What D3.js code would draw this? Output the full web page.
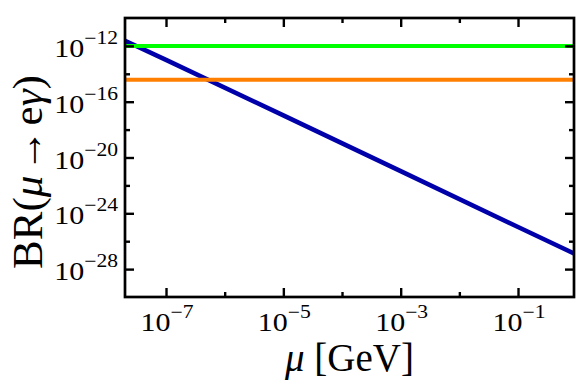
<!DOCTYPE html>
<html>
<head>
<meta charset="utf-8">
<script src="https://cdn.jsdelivr.net/npm/d3@7"></script>
<style>
  body { margin: 0; background: #fff; }
  text, tspan { font-family: "Liberation Serif", "Times New Roman", serif; fill: #000; }
</style>
</head>
<body>
<div class="importPlot"></div>
<script>
// data
var muValues = [2e-8, 1e-7, 1e-5, 1e-3, 1e-1, 0.9];          // GeV
var brValues = [2.3e-12, 1.0e-13, 1.05e-17, 1.05e-21, 1.05e-25, 1.3e-27];
var limitValues = [1e-12, 3.8e-15];                           // horizontal bounds
var limitColors = ["#00ff00", "#ff8000"];
var xLabelExps = [-7, -5, -3, -1];
var xMinorExps = [-6, -4, -2];
var yLabelExps = [-12, -16, -20, -24, -28];
var yMinorExps = [-14, -18, -22, -26];

var width = 581,
    height = 389,
    margin = { top: 18, right: 7, bottom: 92, left: 125 };

var x = d3.scaleLog()
    .domain([2e-8, 0.9])
    .range([margin.left, width - margin.right]);

var y = d3.scaleLog()
    .domain([1e-30, 1e-10])
    .range([height - margin.bottom, margin.top]);

var svg = d3.select(".importPlot")
    .append("svg")
    .attr("width", width)
    .attr("height", height);

svg.append("clipPath")
    .attr("id", "plotClip")
    .append("rect")
    .attr("x", margin.left)
    .attr("y", margin.top)
    .attr("width", width - margin.right - margin.left)
    .attr("height", height - margin.bottom - margin.top);

var plot = svg.append("g").attr("clip-path", "url(#plotClip)");

// blue curve
var line = d3.line()
    .x(function (d) { return x(d[0]); })
    .y(function (d) { return y(d[1]); });

plot.append("path")
    .datum(d3.zip(muValues, brValues))
    .attr("d", line)
    .attr("fill", "none")
    .attr("stroke", "#0000aa")
    .attr("stroke-width", 4.5);

// bounds
plot.selectAll(".limit")
    .data(limitValues)
    .enter().append("path")
    .attr("class", "limit")
    .attr("d", function (v) {
        return line([[x.domain()[0], v], [x.domain()[1], v]]);
    })
    .attr("fill", "none")
    .attr("stroke", function (v, i) { return limitColors[i]; })
    .attr("stroke-width", 4);

function pow10(list) {
    return list.map(function (e) { return Math.pow(10, e); });
}

// ticks, pointing inward on all four sides
function ticks(axis, scale, exps, size, transform) {
    var g = svg.append("g")
        .attr("transform", transform)
        .call(axis(scale).tickValues(pow10(exps)).tickSize(-size).tickFormat(""));
    g.select(".domain").remove();
    g.selectAll("line").attr("stroke", "#000").attr("stroke-width", 2.4);
}

var bottomY = height - margin.bottom,
    rightX = width - margin.right;

ticks(d3.axisBottom, x, xLabelExps, 9, "translate(0," + bottomY + ")");
ticks(d3.axisBottom, x, xMinorExps, 5, "translate(0," + bottomY + ")");
ticks(d3.axisTop, x, xLabelExps, 9, "translate(0," + margin.top + ")");
ticks(d3.axisTop, x, xMinorExps, 5, "translate(0," + margin.top + ")");
ticks(d3.axisLeft, y, yLabelExps, 9, "translate(" + margin.left + ",0)");
ticks(d3.axisLeft, y, yMinorExps, 5, "translate(" + margin.left + ",0)");
ticks(d3.axisRight, y, yLabelExps, 9, "translate(" + rightX + ",0)");
ticks(d3.axisRight, y, yMinorExps, 5, "translate(" + rightX + ",0)");

// frame
svg.append("rect")
    .attr("x", margin.left)
    .attr("y", margin.top)
    .attr("width", rightX - margin.left)
    .attr("height", bottomY - margin.top)
    .attr("fill", "none")
    .attr("stroke", "#000")
    .attr("stroke-width", 2.7);

// tick labels 10^n (the reference type is a bit wide, hence the x stretch)
function powerLabel(sel) {
    sel.append("tspan")
        .attr("font-size", 25)
        .text("10");
    sel.append("tspan")
        .attr("font-size", 18)
        .attr("dy", -13)
        .text(function (e) { return "\u2212" + Math.abs(e); });
}

svg.selectAll(".xlab")
    .data(xLabelExps)
    .enter().append("text")
    .attr("class", "xlab")
    .attr("transform", function (e) {
        return "translate(" + (x(Math.pow(10, e)) + 1) + ",331) scale(1.2,1)";
    })
    .attr("text-anchor", "middle")
    .call(powerLabel);

svg.selectAll(".ylab")
    .data(yLabelExps)
    .enter().append("text")
    .attr("class", "ylab")
    .attr("transform", function (e) {
        return "translate(118," + (y(Math.pow(10, e)) + 11) + ") scale(1.2,1)";
    })
    .attr("text-anchor", "end")
    .call(powerLabel);

// axis titles
var xTitle = svg.append("text")
    .attr("x", (margin.left + rightX) / 2)
    .attr("y", 371)
    .attr("text-anchor", "middle")
    .attr("font-size", 39);
xTitle.append("tspan").attr("font-style", "italic").text("\u03bc");
xTitle.append("tspan").text(" [GeV]");

var yTitle = svg.append("text")
    .attr("transform", "translate(42,172) rotate(-90)")
    .attr("text-anchor", "middle")
    .attr("font-size", 43);
yTitle.append("tspan").text("BR(");
yTitle.append("tspan").attr("font-style", "italic").text("\u03bc");
yTitle.append("tspan").text("\u200a\u2192\u200ae");
yTitle.append("tspan").attr("font-style", "italic").text("\u03b3");
yTitle.append("tspan").text(")");
</script>
</body>
</html>
